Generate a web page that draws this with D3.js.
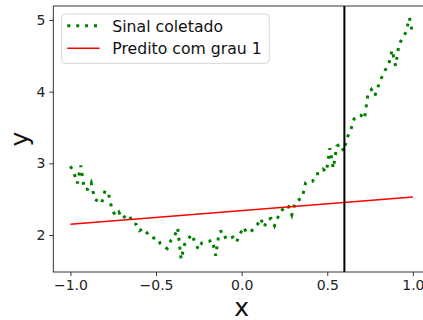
<!DOCTYPE html>
<html>
<head>
<meta charset="utf-8">
<script src="https://cdn.jsdelivr.net/npm/d3@7"></script>
<style>
  body { margin: 0; background: white; }
  svg { display: block; font-family: "DejaVu Sans", sans-serif; }
</style>
</head>
<body>
<script>
// collected signal, 100 samples on [-1, 1]
const sinalY = [
  2.96, 2.87, 2.72, 2.97, 2.64, 2.64, 2.73, 2.50, 2.47, 2.44,
  2.62, 2.58, 2.36, 2.27, 2.32, 2.23, 2.27, 2.28, 2.16, 2.15,
  2.06, 2.09, 2.04, 1.97, 1.96, 1.96, 1.88, 1.84, 1.81, 1.92,
  1.97, 2.10, 1.66, 1.87, 1.94, 2.01, 1.90, 1.80, 1.89, 1.90,
  1.91, 1.93, 1.71, 2.04, 2.06, 1.94, 1.95, 1.97, 1.90, 2.01,
  2.11, 2.03, 2.05, 2.08, 2.14, 2.23, 2.11, 2.22, 2.23, 2.13,
  2.25, 2.33, 2.41, 2.40, 2.28, 2.46, 2.49, 2.52, 2.73, 2.75,
  2.75, 2.85, 2.86, 2.92, 2.88, 3.21, 2.93, 3.24, 3.27, 3.17,
  3.36, 3.46, 3.62, 3.67, 3.67, 3.62, 3.96, 4.03, 3.94, 4.08,
  4.20, 4.30, 4.38, 4.58, 4.36, 4.66, 4.75, 4.83, 5.03, 4.79
];
const sinalX = sinalY.map((d, i) => -1 + (2 * i) / (sinalY.length - 1));

// degree 1 fit
const preditoX = [-1, 1];
const preditoY = [2.15, 2.53];

const corteX = 0.6;

const xTicks = [-1.0, -0.5, 0.0, 0.5, 1.0];
const yTicks = [2, 3, 4, 5];

const width = 423;
const height = 320;

const plotLeft = 53.3;
const plotRight = 430;
const plotTop = 6;
const plotBottom = 272;

const svg = d3.select("body")
  .append("svg")
  .attr("width", width)
  .attr("height", height);

svg.append("rect")
  .attr("width", "100%")
  .attr("height", "100%")
  .attr("fill", "white");

const x = d3.scaleLinear()
  .domain([-1.1, 1.1])
  .range([plotLeft, plotRight]);

const y = d3.scaleLinear()
  .domain([1.484, 5.195])
  .range([plotBottom, plotTop]);

const line = d3.line()
  .x(d => x(d[0]))
  .y(d => y(d[1]));

// signal
svg.append("path")
  .datum(sinalX.map((d, i) => [d, sinalY[i]]))
  .attr("fill", "none")
  .attr("stroke", "green")
  .attr("stroke-width", 3)
  .attr("stroke-dasharray", "3,5.9")
  .attr("d", line);

// prediction
svg.append("path")
  .datum(preditoX.map((d, i) => [d, preditoY[i]]))
  .attr("fill", "none")
  .attr("stroke", "red")
  .attr("stroke-width", 1.5)
  .attr("d", line);

// vertical line
svg.append("line")
  .attr("x1", x(corteX))
  .attr("x2", x(corteX))
  .attr("y1", plotTop)
  .attr("y2", plotBottom)
  .attr("stroke", "black")
  .attr("stroke-width", 2);

// axes
const xAxis = svg.append("g")
  .attr("transform", "translate(0," + plotBottom + ")")
  .call(d3.axisBottom(x).tickValues(xTicks).tickFormat(d3.format(".1f")).tickSize(4).tickPadding(4));

const yAxis = svg.append("g")
  .attr("transform", "translate(" + plotLeft + ",0)")
  .call(d3.axisLeft(y).tickValues(yTicks).tickFormat(d3.format("d")).tickSize(4).tickPadding(4));

[xAxis, yAxis].forEach(g => {
  g.select(".domain").remove();
  g.selectAll("line").attr("stroke", "#222").attr("stroke-width", 0.9);
  g.selectAll("text")
    .attr("font-family", "DejaVu Sans")
    .attr("font-size", 14)
    .attr("fill", "#222");
});
xAxis.selectAll("text").text(d => d3.format(".1f")(d).replace("-", "\u2212"));

// spines (right one is outside the picture)
svg.append("rect")
  .attr("x", plotLeft)
  .attr("y", plotTop)
  .attr("width", plotRight - plotLeft)
  .attr("height", plotBottom - plotTop)
  .attr("fill", "none")
  .attr("stroke", "#222")
  .attr("stroke-width", 0.9);

// axis labels
svg.append("text")
  .attr("x", (plotLeft + plotRight) / 2)
  .attr("y", 315.5)
  .attr("text-anchor", "middle")
  .attr("font-size", 25)
  .attr("fill", "#111")
  .text("x");

svg.append("text")
  .attr("transform", "translate(27.5," + (plotTop + plotBottom) / 2 + ") rotate(-90)")
  .attr("text-anchor", "middle")
  .attr("font-size", 25)
  .attr("fill", "#111")
  .text("y");

// legend
const legend = svg.append("g");

legend.append("rect")
  .attr("x", 61.7)
  .attr("y", 14)
  .attr("width", 207.6)
  .attr("height", 49.3)
  .attr("rx", 3.5)
  .attr("fill", "white")
  .attr("fill-opacity", 0.8)
  .attr("stroke", "#d6d6d6")
  .attr("stroke-width", 1);

legend.append("line")
  .attr("x1", 67.3).attr("x2", 98.7)
  .attr("y1", 25.7).attr("y2", 25.7)
  .attr("stroke", "green")
  .attr("stroke-width", 3)
  .attr("stroke-dasharray", "3,5.9");

legend.append("line")
  .attr("x1", 67.3).attr("x2", 99.5)
  .attr("y1", 48.3).attr("y2", 48.3)
  .attr("stroke", "red")
  .attr("stroke-width", 1.5);

legend.append("text")
  .attr("x", 112.3)
  .attr("y", 32.3)
  .attr("font-size", 15.7)
  .attr("fill", "#111")
  .text("Sinal coletado");

legend.append("text")
  .attr("x", 112.3)
  .attr("y", 54)
  .attr("font-size", 15.7)
  .attr("fill", "#111")
  .text("Predito com grau 1");
</script>
</body>
</html>
